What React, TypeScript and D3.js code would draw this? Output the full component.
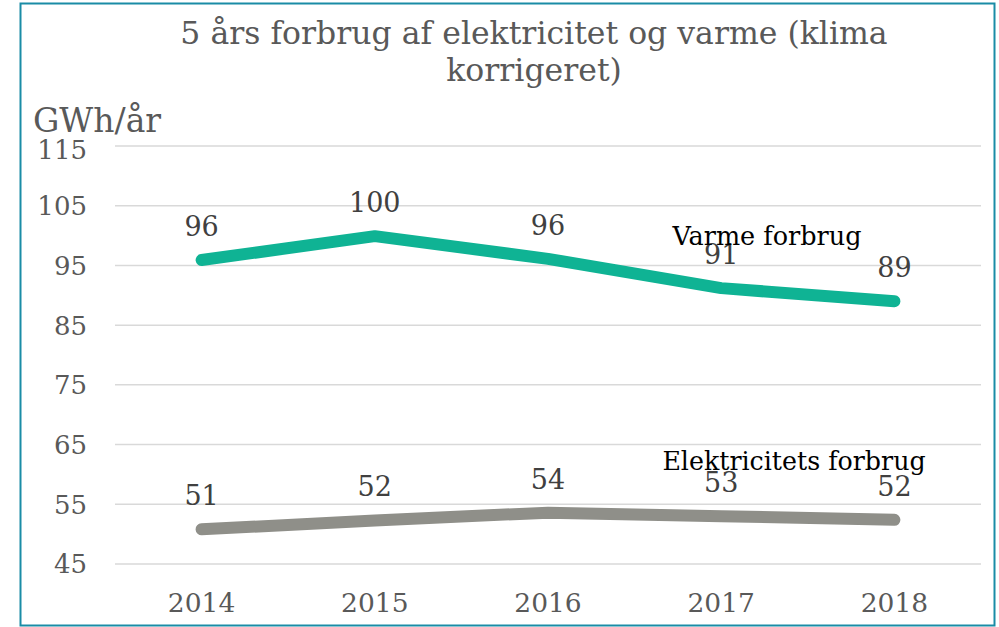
import React from 'react';
import * as d3 from 'd3';

// data
const years = ['2014', '2015', '2016', '2017', '2018'];
const varme = [95.9, 99.9, 96.1, 91.2, 89.0];
const elektricitet = [50.8, 52.3, 53.6, 53.0, 52.4];
const yTicks = [45, 55, 65, 75, 85, 95, 105, 115];

const W = 999;
const H = 627;
const font = '"DejaVu Serif", Georgia, serif';

const App = () => {
    const x = d3.scalePoint<string>()
        .domain(years)
        .range([115, 981])
        .padding(0.5);

    const y = d3.scaleLinear()
        .domain([45, 115])
        .range([564, 146]);

    const line = d3.line<number>()
        .x((d, i) => x(years[i]) as number)
        .y(d => y(d));

    const series = [
        { values: varme, color: '#0fb394', labelColor: '#404040' },
        { values: elektricitet, color: '#8f8f89', labelColor: '#404040' },
    ];

    return (
        <svg width={W} height={H} style={{ position: 'absolute', left: 0, top: 0, background: '#fff' }}>
            <rect x={20.5} y={3.5} width={974} height={622} fill="#fff" stroke="#1a8ca6" strokeWidth={2} />

            <text x={534} y={44} textAnchor="middle" fontFamily={font} fontSize={31.5} fill="#595959">
                5 års forbrug af elektricitet og varme (klima
            </text>
            <text x={534} y={81} textAnchor="middle" fontFamily={font} fontSize={31.5} fill="#595959">
                korrigeret)
            </text>

            <text x={33} y={132} fontFamily={font} fontSize={33} fill="#595959">GWh/år</text>

            {/* grid + y ticks */}
            {yTicks.map(t => (
                <g key={t}>
                    <line x1={115} x2={981} y1={y(t)} y2={y(t)} stroke="#d9d9d9" strokeWidth={1.5} />
                    <text x={87} y={y(t) + (t === 115 ? 4 : 0)} dy="0.36em" textAnchor="end" fontFamily={font} fontSize={26} fill="#595959">
                        {t}
                    </text>
                </g>
            ))}

            {/* x labels */}
            {years.map(yr => (
                <text key={yr} x={x(yr)} y={612} textAnchor="middle" fontFamily={font} fontSize={26.5} fill="#595959">
                    {yr}
                </text>
            ))}

            {series.map((s, si) => (
                <g key={si}>
                    <path d={line(s.values) || ''} fill="none" stroke={s.color} strokeWidth={12}
                        strokeLinecap="round" strokeLinejoin="round" />
                    {s.values.map((v, i) => (
                        <text key={i} x={x(years[i])} y={y(v) - 24} textAnchor="middle"
                            fontFamily={font} fontSize={27} fill={s.labelColor}>
                            {Math.round(v)}
                        </text>
                    ))}
                </g>
            ))}

            <text x={767} y={245} textAnchor="middle" fontFamily={font} fontSize={25.5} fill="#000">Varme forbrug</text>
            <text x={794} y={470} textAnchor="middle" fontFamily={font} fontSize={25.3} fill="#000">Elektricitets forbrug</text>
        </svg>
    );
};

export default App;
